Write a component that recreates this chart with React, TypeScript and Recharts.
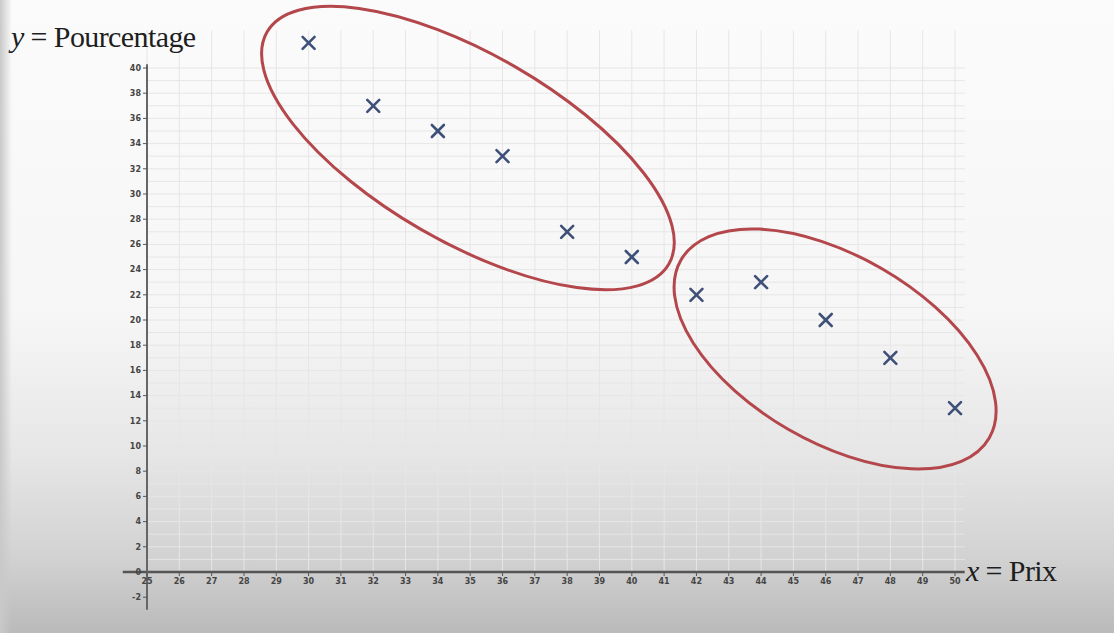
import { ScatterChart, Scatter, XAxis, YAxis, CartesianGrid, ReferenceLine, ReferenceDot } from "recharts";

// prix (x) et pourcentage (y) des onze relevés
const prix = [30, 32, 34, 36, 38, 40, 42, 44, 46, 48, 50];
const pourcentage = [42, 37, 35, 33, 27, 25, 22, 23, 20, 17, 13];

// graduations
const xTicks = [25, 26, 27, 28, 29, 30, 31, 32, 33, 34, 35, 36, 37, 38, 39, 40, 41, 42, 43, 44, 45, 46, 47, 48, 49, 50];
const yTicks = [-2, 0, 2, 4, 6, 8, 10, 12, 14, 16, 18, 20, 22, 24, 26, 28, 30, 32, 34, 36, 38, 40];
const gridRows = [1, 2, 3, 4, 5, 6, 7, 8, 9, 10, 11, 12, 13, 14, 15, 16, 17, 18, 19, 20, 21, 22, 23, 24, 25, 26, 27, 28, 29, 30, 31, 32, 33, 34, 35, 36, 37, 38, 39, 40];

// centres des deux groupes entourés
const groupX = [34.93, 46.29];
const groupY = [33.65, 17.7];

const points = prix.map((x, i) => ({ x, y: pourcentage[i] }));
const groups = groupX.map((x, i) => ({ x, y: groupY[i], rx: i === 0 ? 232 : 178, ry: i === 0 ? 94 : 93 }));

const Cross = (props: any) => {
  const { cx, cy } = props;
  const s = 6;
  return (
    <g stroke="#3f5078" strokeWidth={2.6} strokeLinecap="round">
      <line x1={cx - s} y1={cy - s} x2={cx + s} y2={cy + s} />
      <line x1={cx - s} y1={cy + s} x2={cx + s} y2={cy - s} />
    </g>
  );
};

const tickStyle = { fontSize: 8, fill: "#444", fontFamily: "DejaVu Sans", fontWeight: 700 };

const axisTitle = { position: "absolute" as const, fontSize: 30, color: "#1e1e1e", whiteSpace: "nowrap" as const, letterSpacing: -0.6 };

export default function App() {
  return (
    <div
      style={{
        position: "absolute",
        left: 0,
        top: 0,
        width: 1114,
        height: 633,
        overflow: "hidden",
        background: "linear-gradient(to bottom, #fbfbfb 0%, #f6f6f6 50%, #e6e6e6 72%, #d2d2d2 88%, #c2c2c2 96%, #bababa 100%)",
        fontFamily: "'Liberation Serif', serif",
      }}
    >
      <div style={{ position: "absolute", left: 0, top: 0, width: 12, height: 633, background: "linear-gradient(to right, #c9c9c9, rgba(200,200,200,0))" }} />
      <ScatterChart width={1114} height={633} margin={{ top: 30.2, right: 149.3, left: 107, bottom: 31 }} style={{ position: "absolute", left: 0, top: 0 }}>
        <CartesianGrid stroke="#e6e6e6" strokeWidth={1} horizontalValues={gridRows} verticalValues={xTicks} />
        <XAxis
          type="number"
          dataKey="x"
          domain={[25, 50.3]}
          ticks={xTicks}
          interval={0}
          axisLine={false}
          tickLine={{ stroke: "#555" }}
          tickSize={4}
          tickMargin={2}
          tick={tickStyle}
          height={30}
        />
        <YAxis
          type="number"
          dataKey="y"
          domain={[0, 43]}
          ticks={yTicks}
          interval={0}
          axisLine={false}
          tickLine={{ stroke: "#555" }}
          tickSize={4}
          tickMargin={2}
          tick={tickStyle}
          width={40}
        />
        <ReferenceLine segment={[{ x: 24.25, y: 0 }, { x: 50.3, y: 0 }]} stroke="#555" strokeWidth={2.5} ifOverflow="visible" />
        <ReferenceLine segment={[{ x: 25, y: -3 }, { x: 25, y: 40.3 }]} stroke="#666" strokeWidth={2} ifOverflow="visible" />
        {groups.map((g, i) => (
          <ReferenceDot
            key={i}
            x={g.x}
            y={g.y}
            ifOverflow="visible"
            shape={(p: any) => (
              <ellipse
                cx={p.cx}
                cy={p.cy}
                rx={g.rx}
                ry={g.ry}
                transform={`rotate(30 ${p.cx} ${p.cy})`}
                fill="none"
                stroke="#b4474b"
                strokeWidth={3}
              />
            )}
          />
        ))}
        <Scatter data={points} shape={<Cross />} isAnimationActive={false} />
      </ScatterChart>
      <div style={{ ...axisTitle, left: 11, top: 20 }}>
        <i>y</i> = Pourcentage
      </div>
      <div style={{ ...axisTitle, left: 966, top: 554 }}>
        <i>x</i> = Prix
      </div>
    </div>
  );
}
